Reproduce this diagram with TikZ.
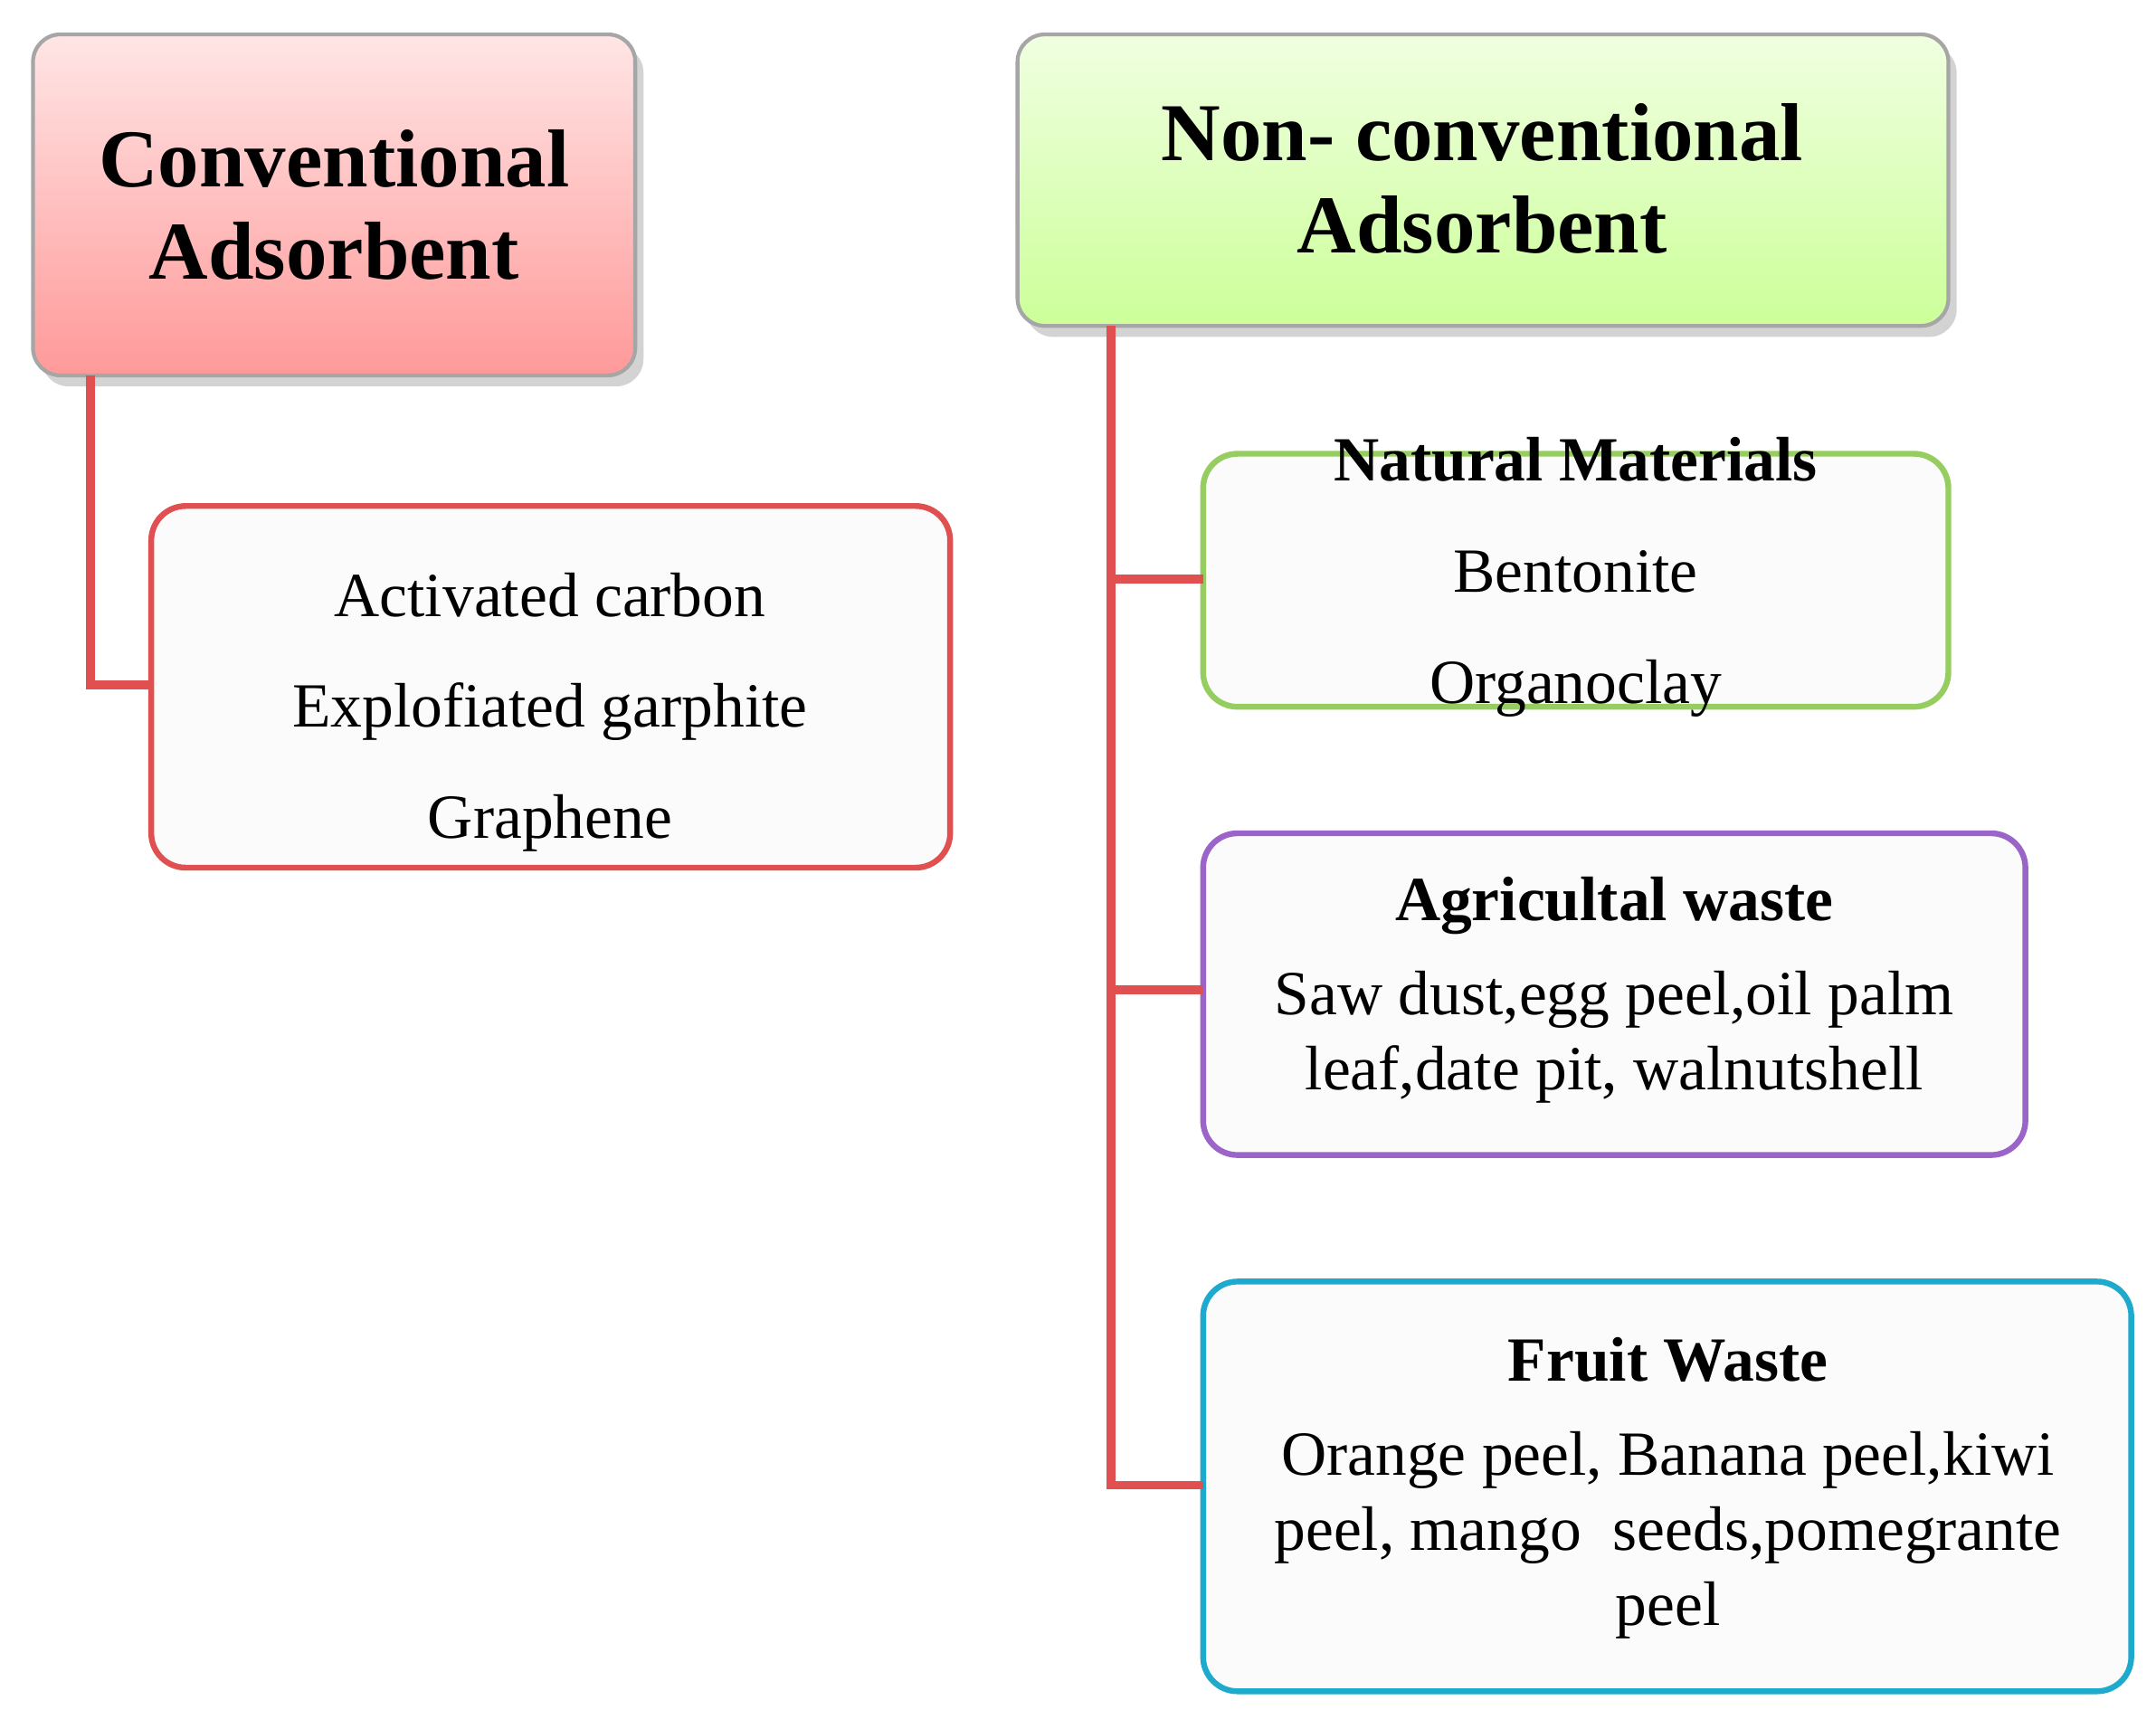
\documentclass[tikz,border=0pt]{standalone}
\usepackage{fontspec}
\setmainfont{Liberation Serif}
\usetikzlibrary{shadows}
\definecolor{conn}{HTML}{E05050}
\tikzset{
  hdr/.style={rounded corners=0.2cm, draw=gray!70, line width=0.8pt, drop shadow={shadow xshift=0.06cm, shadow yshift=-0.08cm, opacity=0.35}},
  sub/.style={rounded corners=0.25cm, fill=white!97!gray, line width=1.2pt},
  link/.style={conn, line width=1.8pt},
  ttl/.style={font=\fontsize{17}{19}\selectfont\bfseries, align=center},
  txt/.style={font=\fontsize{13}{15.5}\selectfont, align=center}
}
\begin{document}
\begin{tikzpicture}[x=0.01cm,y=-0.01cm]
\useasboundingbox (0,0) rectangle (1568,1257);
\path[hdr, top color=red!10, bottom color=red!40] (24,25) rectangle (462,273);
\node[ttl] (conv) at (243,149) {Conventional\\Adsorbent};
\path[hdr, top color={rgb,255:red,240;green,255;blue,225}, bottom color={rgb,255:red,204;green,255;blue,153}] (740,25) rectangle (1417,237);
\node[ttl] (nonconv) at (1078,130) {Non- conventional\\Adsorbent};
\draw[sub, draw=conn] (110,368) rectangle (691,631);
\node[txt, font=\fontsize{13}{23}\selectfont] (act) at (400,518) {Activated carbon\\Explofiated garphite\\Graphene};
\draw[sub, draw={rgb,255:red,150;green,205;blue,95}] (875,330) rectangle (1417,514);
\node[txt, font=\fontsize{13}{23}\selectfont] (nat) at (1146,420) {\textbf{Natural Materials}\\Bentonite\\Organoclay};
\draw[sub, draw={rgb,255:red,155;green,100;blue,200}] (875,606) rectangle (1473,840);
\node[txt] (agri) at (1174,720) {\textbf{Agricultal waste}\\[4pt]Saw dust,egg peel,oil palm\\leaf,date pit, walnutshell};
\draw[sub, draw={rgb,255:red,30;green,170;blue,205}] (875,932) rectangle (1550,1230);
\node[txt] (fruit) at (1213,1082) {\textbf{Fruit Waste}\\[4pt]Orange peel, Banana peel,kiwi\\peel, mango\ \ seeds,pomegrante\\peel};
\coordinate (c1) at (66,273); \coordinate (c2) at (66,498); \coordinate (c3) at (110,498);
\draw[link] (c1) -- (c2) -- (c3);
\coordinate (t0) at (808,237); \coordinate (t1) at (808,421); \coordinate (t2) at (808,720); \coordinate (t3) at (808,1080);
\coordinate (b1) at (875,421); \coordinate (b2) at (875,720); \coordinate (b3) at (875,1080);
\draw[link] (t0) -- (t3) -- (b3);
\draw[link] (t1) -- (b1);
\draw[link] (t2) -- (b2);
\end{tikzpicture}
\end{document}
